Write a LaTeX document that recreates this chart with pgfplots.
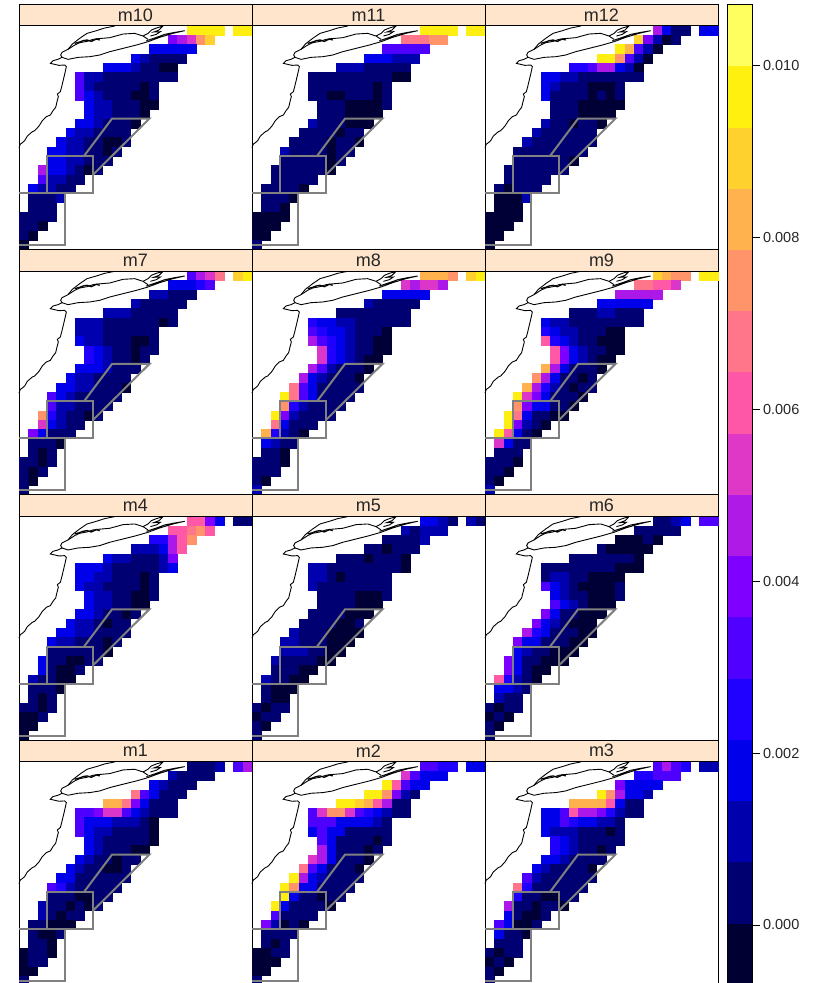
\documentclass[border=0pt]{standalone}
\usepackage{fontspec}
\setmainfont{Liberation Sans}
\usepackage{pgfplots}
\usepackage{pgfplotstable}
\pgfplotsset{compat=1.18}
\definecolor{stripc}{RGB}{255,229,204}
\definecolor{boxc}{RGB}{128,128,128}
\definecolor{b0}{RGB}{0,0,51}\definecolor{b1}{RGB}{0,0,112}\definecolor{b2}{RGB}{0,0,173}\definecolor{b3}{RGB}{0,0,235}
\definecolor{b4}{RGB}{32,0,255}\definecolor{b5}{RGB}{80,0,255}\definecolor{b6}{RGB}{128,0,255}\definecolor{b7}{RGB}{175,26,230}
\definecolor{b8}{RGB}{223,56,199}\definecolor{b9}{RGB}{255,87,168}\definecolor{b10}{RGB}{255,117,138}\definecolor{b11}{RGB}{255,148,107}
\definecolor{b12}{RGB}{255,178,77}\definecolor{b13}{RGB}{255,209,46}\definecolor{b14}{RGB}{255,240,15}\definecolor{b15}{RGB}{255,255,96}
% grid cells (column, row from the bottom)
\pgfplotstableread[row sep=\\]{x y\\
18 23\\19 23\\20 23\\21 23\\23 23\\24 23\\
16 22\\17 22\\18 22\\19 22\\20 22\\
14 21\\15 21\\16 21\\17 21\\18 21\\
12 20\\13 20\\14 20\\15 20\\16 20\\17 20\\
9 19\\10 19\\11 19\\12 19\\13 19\\14 19\\15 19\\16 19\\
6 18\\7 18\\8 18\\9 18\\10 18\\11 18\\12 18\\13 18\\14 18\\15 18\\16 18\\
6 17\\7 17\\8 17\\9 17\\10 17\\11 17\\12 17\\13 17\\14 17\\
6 16\\7 16\\8 16\\9 16\\10 16\\11 16\\12 16\\13 16\\14 16\\
7 15\\8 15\\9 15\\10 15\\11 15\\12 15\\13 15\\14 15\\
7 14\\8 14\\9 14\\10 14\\11 14\\12 14\\13 14\\
6 13\\7 13\\8 13\\9 13\\10 13\\11 13\\12 13\\
5 12\\6 12\\7 12\\8 12\\9 12\\10 12\\11 12\\
4 11\\5 11\\6 11\\7 11\\8 11\\9 11\\10 11\\11 11\\
3 10\\4 10\\5 10\\6 10\\7 10\\8 10\\9 10\\10 10\\
3 9\\4 9\\5 9\\6 9\\7 9\\8 9\\9 9\\
2 8\\3 8\\4 8\\5 8\\6 8\\7 8\\8 8\\
2 7\\3 7\\4 7\\5 7\\6 7\\
1 6\\2 6\\3 6\\4 6\\5 6\\
1 5\\2 5\\3 5\\4 5\\
1 4\\2 4\\3 4\\
0 3\\1 3\\2 3\\3 3\\
0 2\\1 2\\2 2\\
0 1\\1 1\\
0 0\\
}\grid
% values in units of 1e-4, one block per panel, same order as the grid
\pgfplotstableread[row sep=\\]{v\\
96\\96\\96\\96\\96\\96\\
39\\46\\53\\75\\89\\
18\\18\\18\\18\\18\\
18\\11\\4\\4\\4\\4\\
18\\18\\18\\11\\4\\4\\-3\\-3\\
32\\11\\11\\4\\4\\4\\4\\4\\4\\4\\4\\
32\\11\\4\\4\\4\\4\\4\\-3\\4\\
32\\18\\11\\4\\4\\4\\-3\\-3\\4\\
18\\11\\11\\4\\4\\4\\-3\\-3\\
18\\11\\11\\4\\4\\4\\-3\\
18\\18\\11\\4\\4\\4\\-3\\
18\\11\\11\\4\\4\\4\\4\\
18\\11\\11\\4\\4\\-3\\-3\\4\\
18\\18\\11\\11\\4\\4\\-3\\4\\
18\\18\\11\\11\\4\\4\\4\\
46\\18\\18\\11\\4\\-3\\4\\
32\\11\\11\\4\\4\\
18\\11\\11\\4\\4\\
4\\4\\4\\11\\
4\\4\\4\\
4\\4\\4\\4\\
4\\4\\-3\\
4\\-3\\
-3\\
}\dten
\pgfplotstableread[row sep=\\]{v\\
96\\96\\96\\96\\96\\96\\
68\\68\\68\\75\\75\\
32\\32\\32\\32\\32\\
18\\18\\18\\11\\11\\11\\
11\\11\\11\\4\\4\\4\\4\\4\\
4\\4\\4\\4\\4\\4\\4\\4\\4\\-3\\-3\\
4\\4\\4\\4\\4\\4\\4\\-3\\4\\
4\\4\\-3\\-3\\4\\4\\4\\-3\\4\\
4\\4\\4\\-3\\-3\\-3\\-3\\4\\
4\\4\\4\\-3\\-3\\-3\\-3\\
11\\4\\4\\4\\-3\\-3\\-3\\
4\\4\\4\\4\\-3\\4\\4\\
4\\4\\4\\4\\-3\\4\\4\\-3\\
11\\4\\4\\4\\4\\-3\\4\\4\\
4\\4\\4\\4\\4\\-3\\4\\
4\\4\\4\\4\\4\\4\\-3\\
4\\4\\4\\4\\4\\
4\\4\\4\\4\\-3\\
4\\4\\4\\-3\\
4\\4\\-3\\
-3\\-3\\-3\\-3\\
-3\\-3\\-3\\
-3\\-3\\
4\\
}\delev
\pgfplotstableread[row sep=\\]{v\\
46\\18\\4\\4\\18\\18\\
89\\39\\11\\-3\\4\\
96\\82\\32\\11\\-3\\
96\\96\\75\\32\\11\\-3\\
25\\25\\32\\46\\46\\18\\11\\-3\\
18\\18\\11\\11\\4\\4\\4\\4\\4\\4\\4\\
18\\11\\4\\4\\4\\-3\\-3\\-3\\4\\
18\\4\\4\\4\\4\\-3\\4\\-3\\4\\
4\\4\\4\\-3\\-3\\-3\\-3\\-3\\
4\\4\\4\\-3\\-3\\-3\\-3\\
11\\4\\4\\-3\\4\\4\\-3\\
11\\4\\4\\4\\4\\4\\4\\
11\\4\\4\\4\\4\\4\\4\\4\\
4\\4\\4\\4\\4\\4\\4\\4\\
4\\4\\4\\4\\4\\4\\-3\\
4\\4\\4\\4\\4\\4\\4\\
4\\4\\4\\4\\4\\
4\\-3\\4\\4\\4\\
-3\\-3\\-3\\11\\
-3\\-3\\-3\\
-3\\-3\\-3\\-3\\
-3\\-3\\-3\\
-3\\-3\\
-3\\
}\dtwe
\pgfplotstableread[row sep=\\]{v\\
32\\46\\53\\68\\89\\96\\
18\\18\\18\\25\\32\\
11\\11\\4\\4\\4\\
11\\4\\4\\4\\4\\4\\
11\\11\\11\\4\\4\\4\\4\\4\\
11\\11\\11\\4\\4\\4\\4\\4\\4\\-3\\4\\
11\\11\\11\\4\\4\\4\\4\\4\\4\\
18\\11\\11\\4\\4\\4\\-3\\-3\\4\\
25\\18\\11\\4\\4\\-3\\4\\4\\
25\\18\\11\\4\\4\\-3\\4\\
18\\18\\18\\11\\4\\4\\4\\
18\\11\\11\\4\\4\\4\\4\\
18\\18\\11\\11\\4\\4\\4\\-3\\
32\\18\\11\\4\\4\\4\\4\\4\\
32\\11\\11\\4\\4\\4\\4\\
75\\25\\11\\4\\4\\-3\\4\\
53\\18\\11\\4\\4\\
39\\18\\4\\4\\4\\
4\\4\\4\\-3\\
4\\-3\\4\\
4\\4\\-3\\4\\
4\\-3\\4\\
4\\-3\\
4\\
}\dsev
\pgfplotstableread[row sep=\\]{v\\
82\\82\\82\\75\\89\\96\\
53\\46\\53\\53\\46\\
18\\18\\18\\18\\18\\
11\\4\\4\\4\\4\\4\\
4\\4\\4\\4\\4\\4\\4\\4\\
25\\18\\18\\11\\11\\4\\4\\4\\4\\4\\4\\
32\\25\\18\\18\\11\\4\\4\\4\\-3\\
46\\32\\25\\18\\11\\4\\4\\-3\\-3\\
53\\25\\18\\11\\4\\4\\-3\\-3\\
53\\25\\18\\11\\4\\-3\\-3\\
46\\32\\11\\4\\4\\4\\-3\\
46\\18\\11\\4\\4\\4\\-3\\
68\\32\\18\\4\\4\\4\\4\\4\\
96\\68\\32\\18\\4\\4\\4\\4\\
75\\25\\11\\4\\4\\4\\4\\
96\\39\\11\\4\\4\\4\\4\\
68\\18\\4\\4\\4\\
82\\25\\11\\4\\-3\\
18\\11\\4\\4\\
4\\4\\-3\\
4\\4\\4\\-3\\
4\\4\\4\\
4\\-3\\
11\\
}\deig
\pgfplotstableread[row sep=\\]{v\\
89\\82\\75\\75\\96\\96\\
68\\68\\61\\61\\53\\
46\\46\\46\\46\\46\\
18\\18\\18\\18\\18\\18\\
4\\4\\4\\11\\11\\4\\4\\4\\
18\\11\\11\\4\\4\\4\\4\\4\\4\\4\\4\\
25\\18\\11\\11\\4\\4\\4\\-3\\-3\\
61\\25\\18\\11\\4\\4\\-3\\-3\\-3\\
61\\39\\18\\11\\4\\4\\-3\\-3\\
61\\39\\18\\11\\4\\-3\\-3\\
82\\46\\18\\4\\4\\4\\-3\\
75\\46\\18\\4\\4\\-3\\4\\
82\\46\\25\\11\\4\\-3\\4\\4\\
96\\53\\39\\18\\4\\4\\4\\-3\\
75\\39\\18\\18\\4\\4\\-3\\
96\\68\\18\\4\\4\\-3\\-3\\
96\\39\\11\\4\\-3\\
96\\61\\18\\4\\-3\\
53\\18\\4\\4\\
4\\4\\4\\
4\\4\\4\\-3\\
4\\4\\-3\\
4\\-3\\
11\\
}\dnin
\pgfplotstableread[row sep=\\]{v\\
61\\61\\39\\18\\4\\4\\
61\\61\\68\\75\\61\\
25\\25\\46\\61\\75\\
11\\11\\11\\18\\46\\61\\
18\\11\\11\\4\\4\\4\\11\\39\\
18\\18\\18\\11\\4\\4\\4\\4\\4\\11\\18\\
18\\18\\11\\11\\4\\4\\4\\-3\\4\\
18\\11\\11\\4\\4\\4\\4\\-3\\4\\
18\\11\\11\\4\\4\\-3\\-3\\4\\
18\\11\\11\\4\\4\\-3\\-3\\
18\\18\\11\\4\\4\\-3\\4\\
18\\11\\11\\4\\-3\\4\\4\\
18\\18\\11\\11\\4\\4\\4\\4\\
18\\11\\11\\4\\4\\4\\-3\\4\\
4\\4\\4\\4\\4\\4\\-3\\
18\\4\\4\\-3\\-3\\4\\4\\
18\\4\\-3\\-3\\4\\
11\\4\\4\\-3\\-3\\
4\\4\\4\\-3\\
4\\-3\\4\\
4\\4\\-3\\4\\
-3\\-3\\4\\
-3\\-3\\
-3\\
}\dfou
\pgfplotstableread[row sep=\\]{v\\
18\\18\\11\\4\\11\\4\\
11\\4\\11\\11\\11\\
4\\4\\4\\4\\11\\
4\\4\\-3\\4\\4\\4\\
4\\4\\4\\-3\\4\\4\\4\\-3\\
11\\11\\4\\4\\4\\4\\4\\4\\4\\4\\-3\\
11\\11\\4\\-3\\4\\4\\4\\4\\4\\
11\\4\\4\\4\\4\\4\\4\\4\\4\\
4\\4\\4\\4\\-3\\-3\\-3\\4\\
4\\4\\4\\4\\-3\\-3\\-3\\
4\\4\\4\\4\\-3\\-3\\-3\\
4\\4\\4\\4\\-3\\-3\\4\\
11\\4\\4\\4\\-3\\-3\\-3\\-3\\
11\\11\\4\\4\\4\\-3\\-3\\-3\\
11\\11\\11\\4\\4\\-3\\-3\\
11\\4\\4\\4\\4\\-3\\-3\\
4\\4\\4\\-3\\-3\\
11\\4\\4\\-3\\-3\\
4\\-3\\-3\\-3\\
4\\-3\\-3\\
4\\-3\\4\\4\\
-3\\4\\4\\
4\\-3\\
4\\
}\dfiv
\pgfplotstableread[row sep=\\]{v\\
4\\4\\11\\18\\32\\32\\
4\\4\\4\\4\\4\\
-3\\-3\\-3\\4\\-3\\
4\\-3\\-3\\-3\\-3\\-3\\
4\\4\\4\\4\\4\\4\\4\\-3\\
4\\4\\4\\4\\4\\4\\4\\4\\-3\\-3\\-3\\
4\\11\\11\\4\\4\\-3\\-3\\-3\\-3\\
32\\18\\11\\4\\-3\\-3\\-3\\-3\\4\\
18\\11\\4\\4\\-3\\-3\\-3\\4\\
32\\18\\11\\4\\-3\\-3\\-3\\
39\\18\\4\\4\\-3\\-3\\-3\\
39\\18\\11\\4\\-3\\-3\\-3\\
46\\25\\18\\4\\4\\4\\-3\\-3\\
39\\18\\18\\4\\4\\4\\-3\\-3\\
18\\11\\4\\4\\-3\\-3\\-3\\
39\\18\\4\\4\\-3\\-3\\-3\\
39\\18\\4\\-3\\-3\\
61\\25\\11\\4\\-3\\
18\\18\\11\\4\\
11\\4\\4\\
4\\-3\\4\\4\\
-3\\4\\-3\\
4\\-3\\
4\\
}\dsix
\pgfplotstableread[row sep=\\]{v\\
4\\4\\4\\11\\32\\46\\
11\\4\\4\\4\\4\\
18\\11\\4\\4\\4\\
68\\32\\18\\4\\4\\4\\
82\\82\\68\\39\\18\\4\\4\\4\\
32\\32\\39\\53\\53\\32\\18\\11\\4\\4\\4\\
32\\18\\18\\18\\11\\11\\11\\4\\-3\\
32\\18\\11\\11\\4\\4\\4\\4\\-3\\
18\\11\\4\\4\\4\\4\\4\\-3\\
18\\11\\4\\4\\4\\-3\\-3\\
18\\11\\4\\4\\-3\\4\\4\\
18\\11\\4\\4\\-3\\-3\\4\\
18\\18\\4\\4\\4\\4\\4\\4\\
32\\25\\11\\4\\4\\4\\4\\4\\
4\\4\\4\\-3\\-3\\4\\4\\
11\\4\\4\\-3\\4\\-3\\4\\
11\\4\\-3\\4\\4\\
4\\4\\-3\\-3\\-3\\
4\\-3\\-3\\4\\
4\\4\\-3\\
-3\\4\\4\\-3\\
-3\\4\\4\\
-3\\-3\\
4\\
}\done
\pgfplotstableread[row sep=\\]{v\\
32\\32\\25\\25\\18\\18\\
53\\32\\18\\18\\18\\
96\\61\\32\\18\\18\\
96\\96\\75\\39\\11\\4\\
96\\96\\89\\82\\61\\46\\4\\4\\
32\\53\\75\\75\\53\\32\\25\\18\\11\\4\\4\\
32\\32\\32\\18\\18\\18\\18\\11\\4\\
18\\32\\18\\18\\4\\4\\4\\4\\4\\
32\\18\\4\\4\\4\\4\\-3\\4\\
46\\18\\4\\4\\4\\-3\\4\\
53\\46\\18\\4\\4\\4\\-3\\
68\\32\\18\\4\\4\\4\\-3\\
96\\46\\18\\11\\4\\4\\4\\4\\
96\\75\\18\\18\\4\\4\\4\\4\\
96\\18\\4\\4\\-3\\4\\4\\
96\\18\\4\\4\\4\\4\\-3\\
32\\4\\4\\4\\4\\
39\\11\\-3\\4\\-3\\
4\\4\\4\\4\\
4\\-3\\4\\
-3\\-3\\4\\4\\
-3\\-3\\-3\\
-3\\-3\\
4\\
}\dtwo
\pgfplotstableread[row sep=\\]{v\\
32\\46\\32\\25\\11\\11\\
25\\25\\32\\32\\32\\
39\\18\\18\\18\\18\\
96\\75\\46\\18\\18\\11\\
82\\82\\82\\82\\61\\18\\4\\4\\
18\\18\\32\\61\\46\\46\\39\\25\\11\\4\\4\\
18\\18\\32\\25\\18\\18\\11\\11\\4\\
18\\11\\11\\11\\4\\4\\4\\-3\\4\\
25\\18\\11\\4\\4\\4\\4\\4\\
25\\18\\11\\4\\4\\-3\\4\\
18\\18\\11\\4\\4\\4\\4\\
18\\11\\4\\4\\4\\4\\-3\\
32\\11\\4\\4\\4\\4\\4\\4\\
68\\25\\4\\4\\4\\4\\4\\4\\
25\\4\\4\\-3\\-3\\4\\4\\
46\\4\\4\\-3\\4\\4\\-3\\
18\\4\\-3\\-3\\4\\
32\\18\\-3\\-3\\4\\
18\\4\\4\\-3\\
4\\4\\4\\
4\\-3\\4\\4\\
-3\\4\\-3\\
4\\-3\\
4\\
}\dthr
\pgfplotstablecreatecol[copy column from table={\done}{[index]0}]{m1}{\grid}
\pgfplotstablecreatecol[copy column from table={\dtwo}{[index]0}]{m2}{\grid}
\pgfplotstablecreatecol[copy column from table={\dthr}{[index]0}]{m3}{\grid}
\pgfplotstablecreatecol[copy column from table={\dfou}{[index]0}]{m4}{\grid}
\pgfplotstablecreatecol[copy column from table={\dfiv}{[index]0}]{m5}{\grid}
\pgfplotstablecreatecol[copy column from table={\dsix}{[index]0}]{m6}{\grid}
\pgfplotstablecreatecol[copy column from table={\dsev}{[index]0}]{m7}{\grid}
\pgfplotstablecreatecol[copy column from table={\deig}{[index]0}]{m8}{\grid}
\pgfplotstablecreatecol[copy column from table={\dnin}{[index]0}]{m9}{\grid}
\pgfplotstablecreatecol[copy column from table={\dten}{[index]0}]{m10}{\grid}
\pgfplotstablecreatecol[copy column from table={\delev}{[index]0}]{m11}{\grid}
\pgfplotstablecreatecol[copy column from table={\dtwe}{[index]0}]{m12}{\grid}
% map outlines, in picture units of one panel
\pgfplotstableread{
a b
58 443
62 432
68 428
75 422
83 408
98 395
105 392
118 378
128 362
140 350
152 345
160 332
168 322
172 305
176 290
173 282
182 275
186 260
192 235
196 218
200 200
195 195
178 196
165 193
152 190
160 182
175 178
187 172
183 165
187 157
205 148
225 135
240 128
262 124
280 118
295 116
330 113
370 102
405 100
430 108
445 118
}\coastA
\pgfplotstableread{
a b
187 172
205 178
235 172
270 170
300 165
330 155
370 145
410 135
445 125
480 112
520 100
555 92
525 97
495 103
470 112
440 122
}\coastB
\pgfplotstableread{
a b
205 148
218 132
240 115
262 100
290 92
315 84
345 78
}\coastC
\pgfplotstableread{
a b
430 108
445 100
455 90
470 84
490 78
478 90
462 96
482 95
470 103
452 108
}\coastD
\pgfplotstableread{
a b
225 130
240 126
250 122
262 120
275 124
290 117
300 120
}\coastE
\pgfplotstableread{
a b
58 579
197 579
197 735
58 735
}\boxA
\pgfplotstableread{
a b
141 579
141 468
281 468
281 579
141 579
}\boxB
\pgfplotstableread{
a b
253 468
337 356
449 356
281 523
}\boxC
\newcommand{\mapline}[2]{\addplot[#2] table[x expr={(\thisrow{a}-58)/27.95-0.5},y expr={23-((\thisrow{b}-77)/27.95-0.5)}]{#1};}
\newcommand{\panel}[4]{%
\begin{axis}[at={(#1pt,#2pt)},anchor=south west,scale only axis,width=233pt,height=223.6pt,
  xmin=-0.5,xmax=24.5,ymin=-0.5,ymax=23.5,xtick=\empty,ytick=\empty,clip=false,clip marker paths=true,
  axis line style={line width=0.7pt},
  colormap={bpy}{rgb255=(0,0,51) rgb255=(0,0,112) rgb255=(0,0,173) rgb255=(0,0,235) rgb255=(32,0,255) rgb255=(80,0,255) rgb255=(128,0,255) rgb255=(175,26,230) rgb255=(223,56,199) rgb255=(255,87,168) rgb255=(255,117,138) rgb255=(255,148,107) rgb255=(255,178,77) rgb255=(255,209,46) rgb255=(255,240,15) rgb255=(255,255,96)},
  point meta min=-3.3,point meta max=103.5]
\addplot[scatter,only marks,mark=square*,mark size=4.46pt,point meta=explicit,
  scatter/use mapped color={draw=mapped color,fill=mapped color}] table[x=x,y=y,meta=#4]{\grid};
\mapline{\coastA}{black,line width=0.9pt}
\mapline{\coastB}{black,line width=0.9pt}
\mapline{\coastC}{black,line width=0.9pt}
\mapline{\coastD}{black,line width=0.9pt}
\mapline{\coastE}{black,line width=1.3pt}
\mapline{\boxA}{boxc,line width=2pt}
\mapline{\boxB}{boxc,line width=2pt}
\mapline{\boxC}{boxc,line width=2pt}
\draw[fill=stripc,line width=0.7pt] (rel axis cs:0,1) rectangle (rel axis cs:1,1.09705);
\node[font=\fontsize{18}{20}\selectfont,text=black!85] at (rel axis cs:0.5,1.0485) {#3};
\end{axis}}
\begin{document}
\begin{tikzpicture}
\path[use as bounding box] (0,0) rectangle (819pt,983pt);
\clip (0,0) rectangle (819pt,983pt);
\panel{19}{733.7}{m10}{m10}
\panel{252}{733.7}{m11}{m11}
\panel{485}{733.7}{m12}{m12}
\panel{19}{488.4}{m7}{m7}
\panel{252}{488.4}{m8}{m8}
\panel{485}{488.4}{m9}{m9}
\panel{19}{243.1}{m4}{m4}
\panel{252}{243.1}{m5}{m5}
\panel{485}{243.1}{m6}{m6}
\panel{19}{-2.2}{m1}{m1}
\panel{252}{-2.2}{m2}{m2}
\panel{485}{-2.2}{m3}{m3}
\begin{axis}[at={(727pt,-1pt)},anchor=south west,scale only axis,width=25.5pt,height=980pt,
  xmin=0,xmax=1,ymin=-6.86,ymax=107.1,xtick=\empty,axis on top,
  axis line style={line width=0.7pt},
  ytick={0,20,40,60,80,100},yticklabels={0.000,0.002,0.004,0.006,0.008,0.010},
  ytick pos=right,yticklabel pos=right,tick align=outside,major tick length=7pt,
  tick style={line width=0.7pt,black},
  tick label style={font=\fontsize{14.5}{16}\selectfont,text=black!85}]
\addplot[fill=b0,draw=b0,line width=0.1pt] coordinates {(0,-6.86)(1,-6.86)(1,0.26)(0,0.26)} -- cycle;
\addplot[fill=b1,draw=b1,line width=0.1pt] coordinates {(0,0.26)(1,0.26)(1,7.38)(0,7.38)} -- cycle;
\addplot[fill=b2,draw=b2,line width=0.1pt] coordinates {(0,7.38)(1,7.38)(1,14.5)(0,14.5)} -- cycle;
\addplot[fill=b3,draw=b3,line width=0.1pt] coordinates {(0,14.5)(1,14.5)(1,21.6)(0,21.6)} -- cycle;
\addplot[fill=b4,draw=b4,line width=0.1pt] coordinates {(0,21.6)(1,21.6)(1,28.7)(0,28.7)} -- cycle;
\addplot[fill=b5,draw=b5,line width=0.1pt] coordinates {(0,28.7)(1,28.7)(1,35.9)(0,35.9)} -- cycle;
\addplot[fill=b6,draw=b6,line width=0.1pt] coordinates {(0,35.9)(1,35.9)(1,43)(0,43)} -- cycle;
\addplot[fill=b7,draw=b7,line width=0.1pt] coordinates {(0,43)(1,43)(1,50.1)(0,50.1)} -- cycle;
\addplot[fill=b8,draw=b8,line width=0.1pt] coordinates {(0,50.1)(1,50.1)(1,57.2)(0,57.2)} -- cycle;
\addplot[fill=b9,draw=b9,line width=0.1pt] coordinates {(0,57.2)(1,57.2)(1,64.4)(0,64.4)} -- cycle;
\addplot[fill=b10,draw=b10,line width=0.1pt] coordinates {(0,64.4)(1,64.4)(1,71.5)(0,71.5)} -- cycle;
\addplot[fill=b11,draw=b11,line width=0.1pt] coordinates {(0,71.5)(1,71.5)(1,78.6)(0,78.6)} -- cycle;
\addplot[fill=b12,draw=b12,line width=0.1pt] coordinates {(0,78.6)(1,78.6)(1,85.7)(0,85.7)} -- cycle;
\addplot[fill=b13,draw=b13,line width=0.1pt] coordinates {(0,85.7)(1,85.7)(1,92.8)(0,92.8)} -- cycle;
\addplot[fill=b14,draw=b14,line width=0.1pt] coordinates {(0,92.8)(1,92.8)(1,100)(0,100)} -- cycle;
\addplot[fill=b15,draw=b15,line width=0.1pt] coordinates {(0,100)(1,100)(1,107.1)(0,107.1)} -- cycle;
\end{axis}
\end{tikzpicture}
\end{document}
